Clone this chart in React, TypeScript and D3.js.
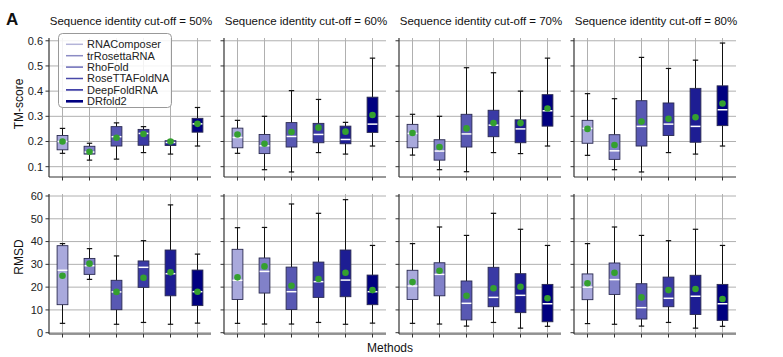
import React from "react";
import * as d3 from "d3";

const methods = ["RNAComposer", "trRosettaRNA", "RhoFold", "RoseTTAFoldNA", "DeepFoldRNA", "DRfold2"];
const cutoffs = ["50%", "60%", "70%", "80%"];
const boxColors = ["#a9a9dc", "#8181c9", "#5858b3", "#3a3aa5", "#1d1d93", "#000080"];
const legendColors = ["#b4b4d8", "#8c8cc4", "#6a6ab6", "#4848a8", "#22229a", "#000080"];

// each entry: [whiskerLow, q1, median, q3, whiskerHigh, mean]
const tm50 = [
  [0.153, 0.167, 0.2, 0.224, 0.252, 0.2],
  [0.126, 0.15, 0.158, 0.181, 0.193, 0.159],
  [0.13, 0.182, 0.219, 0.259, 0.274, 0.215],
  [0.156, 0.185, 0.232, 0.248, 0.259, 0.23],
  [0.15, 0.184, 0.196, 0.203, 0.207, 0.2],
  [0.182, 0.237, 0.27, 0.292, 0.335, 0.27],
];
const tm60 = [
  [0.153, 0.175, 0.216, 0.253, 0.284, 0.228],
  [0.088, 0.152, 0.183, 0.228, 0.3, 0.191],
  [0.079, 0.178, 0.22, 0.275, 0.402, 0.238],
  [0.156, 0.195, 0.228, 0.272, 0.367, 0.255],
  [0.15, 0.191, 0.208, 0.261, 0.276, 0.239],
  [0.182, 0.236, 0.269, 0.376, 0.531, 0.305],
];
const tm70 = [
  [0.146, 0.175, 0.232, 0.268, 0.308, 0.234],
  [0.088, 0.126, 0.162, 0.207, 0.3, 0.178],
  [0.08, 0.178, 0.23, 0.308, 0.493, 0.252],
  [0.156, 0.219, 0.265, 0.324, 0.473, 0.273],
  [0.152, 0.195, 0.25, 0.286, 0.4, 0.273],
  [0.182, 0.261, 0.322, 0.386, 0.531, 0.331],
];
const tm80 = [
  [0.145, 0.193, 0.252, 0.284, 0.39, 0.25],
  [0.088, 0.129, 0.163, 0.227, 0.37, 0.186],
  [0.079, 0.182, 0.26, 0.362, 0.534, 0.279],
  [0.156, 0.224, 0.269, 0.353, 0.49, 0.29],
  [0.15, 0.197, 0.26, 0.411, 0.523, 0.296],
  [0.182, 0.263, 0.326, 0.421, 0.591, 0.351],
];
const rmsd50 = [
  [4.1, 12.3, 27.4, 38.2, 39.1, 25.0],
  [23.4, 25.6, 29.4, 32.6, 36.9, 30.3],
  [3.7, 10.1, 17.9, 23.0, 33.7, 17.9],
  [4.5, 19.9, 28.7, 31.5, 40.4, 24.1],
  [3.7, 16.2, 25.9, 36.3, 56.1, 26.5],
  [4.2, 11.9, 18.0, 27.5, 34.5, 18.0],
];
const rmsd60 = [
  [4.1, 14.6, 23.0, 36.6, 46.1, 24.3],
  [3.8, 17.4, 26.9, 32.8, 46.2, 29.1],
  [3.8, 10.2, 18.0, 28.8, 56.5, 20.6],
  [4.5, 15.5, 22.4, 31.0, 52.4, 23.6],
  [3.7, 15.8, 23.1, 36.3, 58.4, 26.3],
  [4.2, 12.3, 18.0, 25.3, 38.3, 18.7],
];
const rmsd70 = [
  [4.1, 14.6, 20.5, 27.4, 39.1, 22.2],
  [3.8, 16.2, 25.6, 30.7, 46.4, 27.2],
  [2.9, 5.6, 12.9, 22.7, 42.7, 16.2],
  [4.5, 11.4, 15.5, 28.7, 52.4, 19.5],
  [2.0, 8.8, 16.4, 25.9, 45.4, 20.2],
  [2.8, 4.8, 12.7, 21.2, 38.3, 15.1],
];
const rmsd80 = [
  [4.0, 14.5, 20.0, 25.8, 39.1, 21.7],
  [3.7, 16.8, 23.3, 30.6, 46.4, 26.3],
  [2.9, 6.0, 11.0, 21.5, 42.7, 15.5],
  [4.5, 11.4, 15.1, 24.4, 40.4, 18.7],
  [2.0, 8.0, 16.0, 25.2, 45.4, 19.2],
  [2.8, 5.4, 12.7, 21.2, 38.3, 14.8],
];
const tmTicks = [0.1, 0.2, 0.3, 0.4, 0.5, 0.6];
const rmsdTicks = [0, 10, 20, 30, 40, 50, 60];

const tmData = [tm50, tm60, tm70, tm80];
const rmsdData = [rmsd50, rmsd60, rmsd70, rmsd80];

const W = 783;
const H = 357;
const FONT = "'Liberation Sans', Arial, sans-serif";
const PANEL_LEFT = 49;
const PANEL_STEP = 175;
const PANEL_W = 162;

const rows = [
  { label: "TM-score", data: tmData, ticks: tmTicks, domain: [0.059, 0.611], range: [177, 38], fmt: (v: number) => v.toFixed(1), labelY: 104 },
  { label: "RMSD", data: rmsdData, ticks: rmsdTicks, domain: [-0.57, 60.88], range: [334, 194], fmt: (v: number) => String(v), labelY: 257 },
];

function Panel({ pi, row }: { pi: number; row: (typeof rows)[number] }) {
  const x0 = PANEL_LEFT + pi * PANEL_STEP;
  const x = d3.scaleLinear().domain([0.5, 6.5]).range([x0, x0 + PANEL_W]);
  const y = d3.scaleLinear().domain(row.domain).range(row.range);
  const [yb, yt] = row.range;
  const stats = row.data[pi];
  const bw = x(1.2) - x(1);
  const cw = x(1.1) - x(1);
  return (
    <g>
      {row.ticks.map((t) => (
        <line key={"gy" + t} x1={x0} x2={x0 + PANEL_W} y1={y(t)} y2={y(t)} stroke="#b0b0b0" strokeWidth={1} />
      ))}
      {methods.map((m, i) => (
        <line key={"gx" + m} x1={x(i + 1)} x2={x(i + 1)} y1={yt} y2={yb} stroke="#b0b0b0" strokeWidth={1} />
      ))}
      {stats.map((s, i) => {
        const cx = x(i + 1);
        const [lo, q1, med, q3, hi, mean] = s;
        return (
          <g key={"b" + i}>
            <line x1={cx} x2={cx} y1={y(hi)} y2={y(q3)} stroke="#111" strokeWidth={1} />
            <line x1={cx} x2={cx} y1={y(q1)} y2={y(lo)} stroke="#111" strokeWidth={1} />
            <line x1={cx - cw} x2={cx + cw} y1={y(hi)} y2={y(hi)} stroke="#111" strokeWidth={1.2} />
            <line x1={cx - cw} x2={cx + cw} y1={y(lo)} y2={y(lo)} stroke="#111" strokeWidth={1.2} />
            <rect x={cx - bw} y={y(q3)} width={2 * bw} height={y(q1) - y(q3)} fill={boxColors[i]} stroke="#2a2a50" strokeWidth={0.9} />
            <line x1={cx - bw + 0.5} x2={cx + bw - 0.5} y1={y(med)} y2={y(med)} stroke="#fff" strokeWidth={1.5} />
            <circle cx={cx} cy={y(mean)} r={3.3} fill="#34a02f" />
          </g>
        );
      })}
      <line x1={x0} x2={x0} y1={yt} y2={yb} stroke="#333" strokeWidth={1.2} />
      <line x1={x0} x2={x0 + PANEL_W} y1={yb} y2={yb} stroke="#333" strokeWidth={1.2} />
      {row.ticks.map((t) => (
        <line key={"ty" + t} x1={x0 - 3.5} x2={x0} y1={y(t)} y2={y(t)} stroke="#333" strokeWidth={1} />
      ))}
      {methods.map((m, i) => (
        <line key={"tx" + m} x1={x(i + 1)} x2={x(i + 1)} y1={yb} y2={yb + 3.5} stroke="#333" strokeWidth={1} />
      ))}
      {pi === 0 &&
        row.ticks.map((t) => (
          <text key={"l" + t} x={x0 - 6} y={y(t)} dy="0.35em" textAnchor="end" fontSize={11} fill="#222" fontFamily={FONT}>
            {row.fmt(t)}
          </text>
        ))}
    </g>
  );
}

export default function App() {
  return (
    <svg width={W} height={H} style={{ display: "block", position: "absolute", left: 0, top: 0 }}>
      <rect width={W} height={H} fill="#fff" />
      <text x={6} y={25} fontSize={17} fontWeight="bold" fontFamily={FONT} fill="#111">A</text>
      {cutoffs.map((c, pi) => (
        <text key={c} x={PANEL_LEFT + pi * PANEL_STEP + PANEL_W / 2 + 1} y={25} textAnchor="middle" fontSize={11.5} fontFamily={FONT} fill="#111">
          {`Sequence identity cut-off = ${c}`}
        </text>
      ))}
      {rows.map((row) => (
        <g key={row.label}>
          {cutoffs.map((c, pi) => (
            <Panel key={c} pi={pi} row={row} />
          ))}
          <text transform={`translate(23,${row.labelY}) rotate(-90)`} textAnchor="middle" fontSize={12} fontFamily={FONT} fill="#111">
            {row.label}
          </text>
        </g>
      ))}
      <text x={390} y={352} textAnchor="middle" fontSize={12} fontFamily={FONT} fill="#111">Methods</text>
      <g>
        <rect x={58.5} y={33.5} width={113} height={74} rx={4} fill="#fff" fillOpacity={0.85} stroke="#999" strokeWidth={1} />
        {methods.map((m, i) => {
          const ly = d3.scaleLinear().domain([0, 5]).range([44.3, 101.3])(i);
          return (
            <g key={"lg" + m}>
              <line x1={66} x2={83} y1={ly} y2={ly} stroke={legendColors[i]} strokeWidth={i === 5 ? 2.6 : 1.5} />
              <text x={87} y={ly} dy="0.35em" fontSize={11} fontFamily={FONT} fill="#222">{m}</text>
            </g>
          );
        })}
      </g>
    </svg>
  );
}
